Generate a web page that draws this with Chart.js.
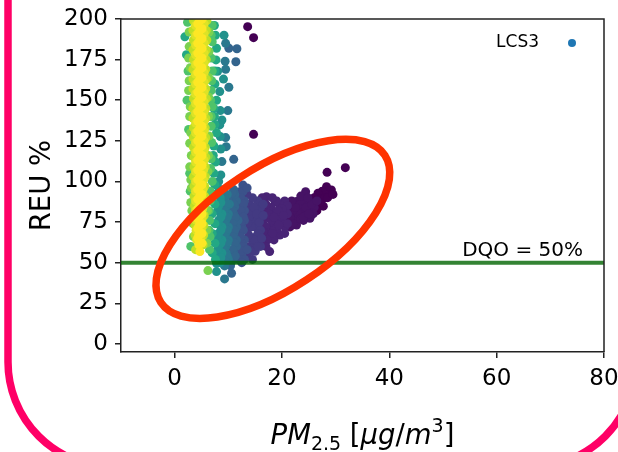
<!DOCTYPE html>
<html lang="en">
<head>
<meta charset="UTF-8">
<title>REU vs PM2.5</title>
<script src="https://cdn.jsdelivr.net/npm/chart.js"></script>
<style>
  body { margin: 0; background: #fff; }
  canvas { display: block; }
</style>
</head>
<body>
<canvas id="chart-reu" width="618" height="452"></canvas>
<script>
// axis ticks
const xTicks = [0, 20, 40, 60, 80];
const yTicks = [0, 25, 50, 75, 100, 125, 150, 175, 200];
const dqoLevel = 50;
const seriesName = 'LCS3';

// points [PM2.5, REU %], grouped by colour value (0 = dark purple, 1 = yellow)
const shades = [0.0, 0.05, 0.1, 0.17, 0.25, 0.32, 0.4, 0.5, 0.6, 0.72, 0.8, 0.9, 0.95, 1.0];

const pts000 = [[31.8,108.5],[28.4,105.6],[29.2,94.8],[28.3,96.8],[28.8,92],[27.5,94],[26.7,92.7],[27.2,89],
  [26,90],[27.7,84.8],[26.5,86],[28,90],[27,87],[28.5,90],[26.5,82],[29.5,92],[13.6,195.3],[14.7,188.5],[14.7,129]];
const pts005 = [[24.4,93.7],[24.3,91.7],[22.7,87.6],[23.5,89],[25,88],[24,86],[23,84],[22,86],[25.2,77.3],[24.5,80],
  [23.8,82],[22.7,73.2],[23,78],[22,80],[21.5,83],[24,76],[21,76],[22.5,76],[25.5,82],[26,84],[21.5,72],[23.5,86],
  [23,80],[24.5,84],[25.5,86],[22,82],[26.5,88],[23.5,77],[25.8,80],
  [21.5,78],[22.5,84],[23.5,91],[24.8,90],[22,74],[24,78],[25,80],[21.8,88]];
const pts010 = [[17.1,90.6],[18.7,87.6],[19.9,84.5],[20.5,88],[21,85],[19.6,67],[18,72],[17.5,68],[19,75],[20,80],
  [18.5,80],[17,78],[16.5,74],[17.7,56.8],[18,84],[19,70],[20.5,72],[20,76],[17.5,84],[16.5,82],[18.5,64],[16.8,66],
  [15.9,62],[19.5,86],[21,80],[20.5,68],[18,76],[19.5,78],[17,72],[18.5,70],[20,83],[21,74],[16,78],[19,88],
  [17,86],[18.2,90],[17.5,80],[18.2,68],[19.3,82],[17.3,64],[16.5,69],[17,60],[16.3,90],[20.3,79],[19.4,73],[18.5,78]];
const pts017 = [[14.6,81.4],[15.2,66],[14,60],[15,72],[14.5,76],[15.5,78],[16,84],[15.5,88],[14,86],[13.5,70],[14,65],
  [15,57],[13.5,55],[16,70],[15.8,75],[13.8,78],[14.5,90],[16,60],[15,62],[14.5,52],[16.5,86],[13.5,92],
  [14,82],[14.8,84],[15.3,80],[14.3,72],[15.5,68],[14.8,64],[13.8,67],[14.3,57],[15.5,60],[16.2,65],[13.6,74],[16.5,79]];
const pts025 = [[12.7,97.8],[12.1,93.7],[13,88],[12.5,84],[12,80],[13,76],[12.5,72],[12,68],[13,64],[12.1,59.9],
  [12.5,55],[13,52],[11.8,52],[12,86],[13,82],[12.5,62],[12.7,93.7],[13.5,96],
  [12.3,90],[12.8,86],[12.3,82],[12.8,78],[12.3,74],[12.8,70],[12.3,66],[12.8,60],[12.3,57],[12.5,50],[13.5,58]];
const pts032 = [[10.6,90.6],[11.2,84.5],[11,80],[10.5,76],[11.5,72],[11,68],[10.5,64],[11.5,60],[11,56],[10.9,51.7],
  [10.6,43.5],[10.4,48],[11.5,88],[11,95],[10.1,182],[11.6,181.7],[11.4,173.7],[11,113.6],[11.5,64],[10.5,70],
  [11.8,76],[11.2,92],
  [10.8,93],[11,86],[10.8,82],[11.3,78],[10.8,74],[11.2,70],[10.8,66],[11.2,62],[10.8,58],[11.3,54],[10.5,50]];
const pts040 = [[9,87.6],[9.8,92],[9.5,84],[10,80],[9.5,76],[10,72],[9.5,68],[10,64],[9.5,60],[9.6,55.8],[9.3,40],
  [10,52],[9.5,127],[9.9,143.6],[9.4,174],[9.5,169],[10.1,158],[9.5,185],[8.8,112.2],[9.6,121.4],[9.3,48],[10.2,86],
  [9.3,90],[9.8,86],[9.3,82],[9.8,78],[9.3,74],[9.8,70],[9.3,66],[9.8,62],[9.3,58],[9.8,54],[9.5,50.5]];
const pts050 = [[8.5,95],[8.5,90],[8.2,85],[8.8,80],[8.2,76],[8.8,72],[8.2,68],[8.8,64],[8.2,60],[8.8,56],[8.4,54.8],
  [8.5,50],[7.8,49.6],[7.8,44.5],[8.4,155.3],[8.8,137.8],[8.5,127.6],[8.4,134.8],[8.6,120],[8,167.8],[8.5,143.6],
  [8.6,104],[8.2,100],[9.1,163],[9.2,190],
  [8,93],[8.6,87],[8,82],[8.6,78],[8,74],[8.6,70],[8,66],[8.6,62],[8,58],[8.6,53]];
const pts060 = [[7.7,174.8],[7.6,190],[7.8,182],[7.5,160],[7.8,150],[7.4,140],[7.8,130],[7.3,121.8],[7.6,112],[7.3,105],
  [7.5,98],[7,92],[7.5,86],[7,80],[7.5,74],[7,68],[7.5,62],[7,56],[7.6,52],[1.9,189],[2.2,178],
  [7.4,196],[7.5,168],[7.3,145],[7.5,135],[7.2,116]];
const pts072 = [[7,196],[7,186],[6.8,176],[7,168],[6.8,156],[7,146],[6.8,134],[6.9,124],[6.8,114],[7,100],[6.6,88],
  [6.5,76],[6.6,66],[6.5,58],[2.5,168],[2.3,150],[2.6,132],[2.8,105],[2.9,94],[3,60],[2.4,198],
  [6.8,190],[6.9,162],[6.7,150],[6.8,140],[6.7,108],[6.6,94],[6.4,82],[6.4,70]];
const pts080 = [[6.2,45.1],[2.7,192],[2.7,183],[2.6,176],[2.7,162],[2.6,156],[2.8,140],[2.8,123.5],[3.1,116],[2.8,109],
  [3,101],[3,87],[3.2,82],[3.4,74],[3.5,66],[6.4,192],[6.4,180],[6.3,164],[6.3,140],[6.4,128],[6.2,106],[6.1,82],
  [6,70],[6,62],[2.9,170],[2.9,146],[3,130],[3.1,96],[6.3,152],[6.3,116]];
const pts090 = [[3.5,199],[3.5,187],[3.5,175],[3.4,163],[3.5,151],[3.4,139],[3.5,127],[3.6,115],[3.5,103],[3.6,91],
  [3.8,79],[3.8,67],[6,199],[6,187],[5.9,175],[5.9,163],[5.9,151],[5.8,139],[5.8,127],[5.8,115],[5.7,103],[5.6,91],
  [5.5,79],[5.4,67],[3.9,58],[3.4,193],[3.4,181],[3.4,169],[3.4,157],[3.4,145],[3.5,133],[3.5,121],[3.6,109],
  [3.6,97],[3.7,85],[3.8,73],[5.9,193],[5.9,181],[5.8,169],[5.8,157],[5.8,145],[5.7,133],[5.7,121],[5.7,109],
  [5.6,97],[5.5,85],[5.4,73],[5.3,61]];
const pts095 = [[3.9,202],[3.9,196],[3.9,190],[3.9,184],[3.9,178],[3.9,172],[3.9,166],[3.9,160],[3.9,154],[3.9,148],
  [3.9,142],[3.9,136],[3.9,130],[3.9,124],[3.9,118],[3.9,112],[3.9,106],[3.9,100],[3.9,94],[3.9,88],[3.9,82],
  [4.0,76],[4.0,70],[4.1,64],[5.5,203],[5.5,197],[5.5,191],[5.5,185],[5.5,179],[5.5,173],[5.5,167],[5.5,161],
  [5.5,155],[5.5,149],[5.5,143],[5.5,137],[5.5,131],[5.5,125],[5.5,119],[5.5,113],[5.4,107],[5.4,101],[5.3,95],
  [5.3,89],[5.2,83],[5.1,77],[5.0,71],[4.9,65]];
const pts100 = [[4.3,203],[4.3,197],[4.3,191],[4.3,185],[4.3,179],[4.3,173],[4.3,167],[4.3,161],[4.3,155],[4.3,149],
  [4.3,143],[4.3,137],[4.3,131],[4.3,125],[4.3,119],[4.3,113],[4.3,107],[4.3,101],[4.3,95],[4.3,89],[4.3,83],[4.3,77],
  [4.3,71],[4.3,65],[5.1,200],[5.1,194],[5.1,188],[5.1,182],[5.1,176],[5.1,170],[5.1,164],[5.1,158],[5.1,152],
  [5.1,146],[5.1,140],[5.1,134],[5.1,128],[5.1,122],[5.1,116],[5.1,110],[5.1,104],[5.1,98],[5.1,92],[5.1,86],
  [5.1,80],[5.1,74],[5.1,68],[5.1,62],[4.7,56.8],[4.7,199],[4.7,193],[4.7,187],[4.7,181],[4.7,175],[4.7,169],
  [4.7,163],[4.7,157],[4.7,151],[4.7,145],[4.7,139],[4.7,133],[4.7,127],[4.7,121],[4.7,115],[4.7,109],[4.7,103],
  [4.7,97],[4.7,91],[4.7,85],[4.7,79],[4.6,73],[4.5,67],[4.5,61]];

const groups = [pts000, pts005, pts010, pts017, pts025, pts032, pts040, pts050, pts060, pts072, pts080, pts090, pts095, pts100];

// viridis colormap
const viridisStops = ['#440154', '#482475', '#414487', '#355f8d', '#2a788e', '#21918c',
  '#22a884', '#44bf70', '#7ad151', '#bddf26', '#fde725'];
function viridis(t) {
  const n = viridisStops.length - 1;
  const f = Math.min(Math.max(t, 0), 1) * n;
  const i = Math.min(Math.floor(f), n - 1);
  const k = f - i;
  const a = parseInt(viridisStops[i].slice(1), 16), b = parseInt(viridisStops[i + 1].slice(1), 16);
  const ch = s => Math.round(((a >> s) & 255) * (1 - k) + ((b >> s) & 255) * k);
  return `rgb(${ch(16)},${ch(8)},${ch(0)})`;
}

const points = [];
const colors = [];
groups.forEach((g, i) => {
  g.forEach(p => {
    points.push({ x: p[0], y: p[1] });
    colors.push(viridis(shades[i]));
  });
});

const FONT = '"DejaVu Sans", sans-serif';

// spines, ellipse, DQO label, legend, titles, pink frame
const extras = {
  id: 'extras',
  afterDatasetsDraw(chart) {
    const { ctx, chartArea: a, scales: { x, y } } = chart;
    ctx.save();
    ctx.strokeStyle = '#222';
    ctx.lineWidth = 1.5;
    ctx.beginPath();
    ctx.moveTo(a.left, a.top);
    ctx.lineTo(a.right, a.top);
    ctx.lineTo(a.right, a.bottom);
    ctx.stroke();

    // DQO label
    ctx.fillStyle = '#000';
    ctx.font = '20px ' + FONT;
    ctx.textAlign = 'right';
    ctx.textBaseline = 'alphabetic';
    ctx.fillText('DQO = 50%', a.right - 21, y.getPixelForValue(dqoLevel) - 7);

    // red ellipse
    ctx.strokeStyle = '#ff3300';
    ctx.lineWidth = 7.5;
    ctx.beginPath();
    ctx.ellipse(x.getPixelForValue(18.3), y.getPixelForValue(70.8), 134, 61, -33.3 * Math.PI / 180, 0, Math.PI * 2);
    ctx.stroke();

    // legend
    ctx.font = '17px ' + FONT;
    ctx.textBaseline = 'middle';
    ctx.fillText(seriesName, a.right - 65, a.top + 24);
    ctx.fillStyle = '#1f77b4';
    ctx.beginPath();
    ctx.arc(a.right - 32, a.top + 24, 4, 0, Math.PI * 2);
    ctx.fill();
    ctx.restore();
  },
  afterDraw(chart) {
    const { ctx, chartArea: a } = chart;
    ctx.save();
    ctx.fillStyle = '#000';
    ctx.textBaseline = 'alphabetic';
    ctx.textAlign = 'left';

    // y title
    ctx.save();
    ctx.translate(50, (a.top + a.bottom) / 2);
    ctx.rotate(-Math.PI / 2);
    ctx.textAlign = 'center';
    ctx.font = '27.5px ' + FONT;
    ctx.fillText('REU %', 0, 0);
    ctx.restore();

    // x title: PM_2.5 [μg/m^3]
    const F = 27.5, S = 19;
    const parts = [
      ['PM', 'italic ' + F + 'px ' + FONT, 0],
      ['2.5', S + 'px ' + FONT, 6],
      [' [', F + 'px ' + FONT, 0],
      ['μg', 'italic ' + F + 'px ' + FONT, 0],
      ['/', F + 'px ' + FONT, 0],
      ['m', 'italic ' + F + 'px ' + FONT, 0],
      ['3', S + 'px ' + FONT, -12],
      [']', F + 'px ' + FONT, 0]
    ];
    let total = 0;
    parts.forEach(p => { ctx.font = p[1]; total += ctx.measureText(p[0]).width; });
    let px = (a.left + a.right) / 2 - total / 2;
    const base = 444;
    parts.forEach(p => {
      ctx.font = p[1];
      ctx.fillText(p[0], px, base + p[2]);
      px += ctx.measureText(p[0]).width;
    });

    // pink frame
    ctx.strokeStyle = '#ff0066';
    ctx.lineWidth = 7.5;
    const L = 8, R = 636, B = 467, r = 105;
    ctx.beginPath();
    ctx.moveTo(L, -10);
    ctx.lineTo(L, B - r);
    ctx.arcTo(L, B, L + r, B, r);
    ctx.lineTo(R - r, B);
    ctx.arcTo(R, B, R, B - r, r);
    ctx.lineTo(R, -10);
    ctx.stroke();
    ctx.restore();
  }
};

new Chart(document.getElementById('chart-reu'), {
  type: 'scatter',
  data: {
    datasets: [
      {
        type: 'line',
        label: 'DQO',
        data: [{ x: -10, y: dqoLevel }, { x: 80, y: dqoLevel }],
        borderColor: 'rgba(0,100,0,0.8)',
        borderWidth: 4,
        pointRadius: 0,
        order: 0
      },
      {
        label: seriesName,
        data: points,
        pointBackgroundColor: colors,
        pointBorderWidth: 0,
        pointRadius: 4.5,
        clip: 0,
        order: 1
      }
    ]
  },
  options: {
    responsive: false,
    animation: false,
    events: [],
    layout: { padding: { top: 19, right: 14, left: 0, bottom: 0 } },
    plugins: { legend: { display: false }, tooltip: { enabled: false } },
    scales: {
      x: {
        type: 'linear',
        min: -10,
        max: 80,
        afterFit: s => { s.height = 100; s.paddingLeft = 0; s.paddingRight = 0; },
        afterBuildTicks: s => { s.ticks = xTicks.map(v => ({ value: v })); },
        grid: { drawOnChartArea: false, drawTicks: true, tickLength: 6, color: '#222', lineWidth: 1.5 },
        border: { display: true, color: '#222', width: 1.5 },
        ticks: { color: '#000', font: { size: 23, family: FONT }, padding: 7, maxRotation: 0 }
      },
      y: {
        type: 'linear',
        min: -5,
        max: 200,
        afterFit: s => { s.width = 121; s.paddingTop = 0; s.paddingBottom = 0; },
        afterBuildTicks: s => { s.ticks = yTicks.map(v => ({ value: v })); },
        grid: { drawOnChartArea: false, drawTicks: true, tickLength: 6, color: '#222', lineWidth: 1.5 },
        border: { display: true, color: '#222', width: 1.5 },
        ticks: { color: '#000', font: { size: 23, family: FONT }, padding: 7 }
      }
    }
  },
  plugins: [extras]
});
</script>
</body>
</html>
